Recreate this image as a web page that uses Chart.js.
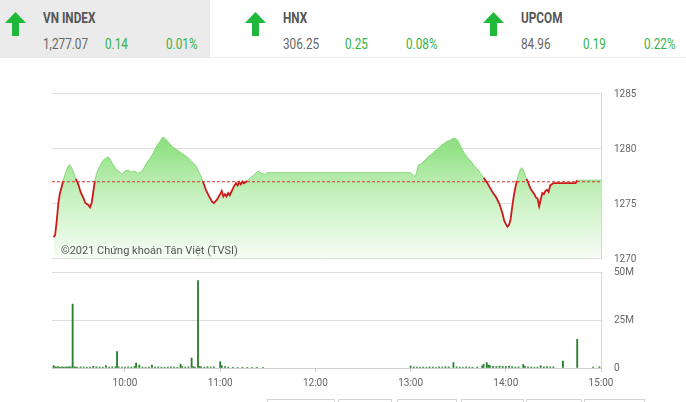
<!DOCTYPE html>
<html>
<head>
<meta charset="utf-8">
<script src="https://cdn.jsdelivr.net/npm/chart.js@4.4.0/dist/chart.umd.min.js"></script>
<style>
  html, body { margin: 0; padding: 0; background: #fff; }
  #wrap { position: relative; width: 686px; height: 402px; overflow: hidden; font-family: "Roboto", sans-serif; }
  #head { position: absolute; left: 0; top: 0; width: 686px; height: 57px; border-bottom: 1px solid #eee; }
  #panel { position: absolute; left: 0; top: 0; width: 210px; height: 58px; background: #ebebeb; }
  .arrow { position: absolute; top: 12px; }
  .txt { position: absolute; white-space: nowrap; font-size: 14px; line-height: 14px; transform: scaleX(0.84); transform-origin: 0 0; }
  .name { font-weight: bold; color: #555; top: 11px; }
  .val { color: #666; top: 37px; }
  .chg { color: #34b247; top: 37px; }
  canvas { position: absolute; left: 0; }
  #copy { position: absolute; left: 61px; top: 244px; font: 11px "Roboto", sans-serif; color: #555; }
  .btn { position: absolute; top: 399px; height: 10px; border: 1px solid #d4d4d4; border-bottom: none; }
</style>
</head>
<body>
<div id="wrap">
  <div id="head"></div>
  <div id="panel"></div>
  <div id="quotes"></div>
  <canvas id="priceChart" width="686" height="210" style="top:60px"></canvas>
  <canvas id="volChart" width="686" height="140" style="top:262px"></canvas>
  <div id="copy">©2021 Chứng khoán Tân Việt (TVSI)</div>
  <div class="btn" style="left:267px;width:66px"></div>
  <div class="btn" style="left:338px;width:52px"></div>
  <div class="btn" style="left:397px;width:58px"></div>
  <div class="btn" style="left:461px;width:61px"></div>
  <div class="btn" style="left:526px;width:54px"></div>
  <div class="btn" style="left:584px;width:59px"></div>
</div>
<script>
// chỉ số đầu trang
const indexNames = ['VN INDEX', 'HNX', 'UPCOM'];
const indexValues = ['1,277.07', '306.25', '84.96'];
const indexChanges = ['0.14', '0.25', '0.19'];
const indexPercents = ['0.01%', '0.08%', '0.22%'];

// VN-Index trong phiên
const REF_PRICE = 1276.93;
const priceTimes = [
  '9:15','9:16','9:17','9:18','9:19','9:20','9:21','9:22','9:23','9:24','9:25','9:26','9:27','9:28','9:29','9:30',
  '9:31','9:32','9:33','9:34','9:35','9:36','9:37','9:38','9:39','9:40','9:41',
  '9:42','9:43','9:44','9:45','9:46','9:47','9:48','9:49','9:50','9:51','9:52','9:53','9:54',
  '9:56','9:58','10:00','10:02','10:04','10:06','10:08','10:10',
  '10:12','10:14','10:16','10:18','10:20','10:22','10:24','10:25',
  '10:27','10:30','10:33','10:36','10:39','10:42','10:45','10:47','10:49',
  '10:51','10:53','10:55','10:56','10:58','11:00','11:01','11:02','11:03','11:04','11:05','11:06',
  '11:07','11:08','11:09','11:10','11:11','11:12','11:13','11:14','11:15','11:17',
  '11:19','11:21','11:23','11:24','11:26','11:28','11:29','11:30',
  '13:00','13:01','13:03','13:04','13:05',
  '13:07','13:09','13:11','13:13','13:15','13:17','13:19','13:21','13:23','13:25','13:27','13:29','13:30',
  '13:32','13:34','13:36','13:38','13:40','13:42','13:44','13:46','13:48',
  '13:50','13:52','13:54','13:56','13:58','13:59','14:00','14:01','14:02','14:03','14:04','14:05','14:06','14:07',
  '14:08','14:09','14:10','14:11','14:12','14:13','14:14',
  '14:15','14:16','14:17','14:18','14:19','14:20','14:21','14:22','14:23','14:24','14:25','14:26','14:27','14:28','14:29','14:30',
  '14:44','14:45','15:00'
];
const priceValues = [
  1271.9,1272.1,1273.4,1275.0,1275.9,1276.4,1277.0,1277.5,1277.9,1278.3,1278.5,1278.3,1278.0,1277.6,1277.2,1276.9,
  1276.5,1276.0,1275.7,1275.4,1275.0,1274.9,1274.8,1274.6,1275.0,1276.0,1277.0,
  1277.6,1278.0,1278.3,1278.6,1278.8,1279.0,1279.0,1279.2,1279.1,1278.9,1278.6,1278.4,1278.1,
  1277.9,1277.6,1277.9,1278.0,1277.8,1277.9,1277.7,1277.8,
  1278.2,1278.7,1279.1,1279.6,1280.2,1280.6,1281.0,1280.9,
  1280.6,1280.1,1279.8,1279.5,1279.2,1278.8,1278.3,1277.7,1277.0,
  1276.2,1275.6,1275.1,1275.0,1275.3,1275.8,1276.1,1275.6,1275.8,1275.6,1275.9,1275.7,
  1276.0,1276.3,1276.6,1276.8,1276.6,1276.9,1276.7,1276.95,1276.8,1277.0,
  1277.3,1277.5,1277.8,1277.9,1277.7,1277.6,1277.7,1277.75,
  1277.75,1277.6,1277.4,1277.9,1278.45,
  1278.6,1278.9,1279.2,1279.4,1279.7,1279.9,1280.2,1280.4,1280.6,1280.7,1280.9,1280.8,1280.6,
  1280.0,1279.5,1279.1,1278.8,1278.4,1278.1,1277.7,1277.3,1276.9,
  1276.4,1275.9,1275.5,1274.9,1274.0,1273.4,1273.1,1272.85,1273.0,1273.5,1274.6,1275.6,1276.4,1277.0,
  1277.6,1278.0,1278.2,1278.0,1277.6,1277.2,1276.9,
  1276.5,1276.2,1276.0,1275.8,1275.5,1275.4,1274.7,1275.3,1275.9,1275.8,1276.1,1276.2,1276.0,1276.6,1276.7,1276.8,
  1276.8,1277.07,1277.07
];

// khối lượng (triệu cp)
const volTimes = [
  '9:15','9:16','9:17','9:18','9:19','9:20','9:21','9:22','9:23','9:24','9:25','9:26','9:27','9:28','9:29','9:30',
  '9:32','9:34','9:36','9:38','9:40','9:42','9:44','9:46','9:48','9:50','9:52','9:54','9:55','9:56','9:58',
  '10:00','10:02','10:04','10:06','10:07','10:09','10:11','10:13','10:15','10:17','10:19','10:21','10:23','10:25',
  '10:27','10:29','10:31','10:33','10:35','10:36','10:38','10:40','10:42','10:43','10:44','10:46','10:47','10:48',
  '10:50','10:52','10:54','10:56','11:00','11:01','11:03','11:05','11:08','11:11','11:14','11:17','11:20','11:23','11:27',
  '13:00','13:02','13:04','13:06','13:08','13:10','13:12','13:14','13:16','13:18','13:20','13:22','13:24','13:27',
  '13:29','13:31','13:33','13:35','13:37','13:39','13:42','13:45','13:46','13:48','13:49','13:50','13:52','13:54',
  '13:56','13:58','14:00','14:02','14:04','14:06','14:08','14:11','14:12','14:14','14:16','14:18','14:20','14:22',
  '14:24','14:26','14:28','14:30','14:36','14:45','14:55','14:59'
];
const volValues = [
  1.2,0.6,0.5,0.7,0.4,0.6,0.5,0.4,0.6,0.5,0.7,0.5,33.3,0.6,0.5,0.4,
  0.6,0.5,0.4,0.5,0.9,0.6,0.5,0.4,1.2,0.5,0.6,0.7,8.5,0.6,0.4,
  0.5,0.6,0.5,0.8,2.6,1.5,0.5,0.4,0.5,1.5,0.5,0.6,0.5,0.4,
  0.5,0.6,0.5,0.4,2.0,0.8,0.5,0.6,5.2,0.7,0.5,45.5,0.8,0.6,
  0.5,0.7,0.5,0.6,3.3,1.2,0.7,0.5,0.4,0.3,0.4,0.3,0.3,0.4,0.3,
  1.0,0.6,0.5,0.4,0.5,0.4,0.6,0.5,0.4,0.6,0.5,0.7,0.6,2.8,
  0.6,0.5,0.4,0.6,0.5,0.4,0.5,1.0,2.0,2.8,1.5,1.2,0.9,0.8,
  1.0,0.9,0.8,1.0,0.7,0.5,0.6,1.8,0.9,0.6,0.5,0.4,0.5,1.2,
  0.6,0.7,0.6,0.6,3.6,15.0,0.5,0.6
];

const hourTicks = ['10:00', '11:00', '12:00', '13:00', '14:00', '15:00'];
const priceTicks = [1270, 1275, 1280, 1285];
const volTicks = [0, 25, 50];

const X_MIN = 554;   // 9:14
const X_MAX = 900;   // 15:00
const GREEN_LINE = '#82d874';
const RED_LINE = '#cc1a1a';
const AXIS_FONT = { family: 'Roboto', size: 10 };

function toMin(s) {
    const [h, m] = s.split(':').map(Number);
    return h * 60 + m;
}

// ===========================
// đầu trang
// ===========================
const arrowSvg = '<svg width="21" height="24" viewBox="0 0 21 24"><path d="M10.5 0 L21 11 L14 11 L14 24 L7 24 L7 11 L0 11 Z" fill="#1fb83a"/></svg>';
const quoteX = [5, 245, 483];
const quotes = document.getElementById('quotes');
indexNames.forEach((name, i) => {
    const x0 = quoteX[i];
    quotes.innerHTML += `
        <div class="arrow" style="left:${x0}px">${arrowSvg}</div>
        <div class="txt name" style="left:${x0 + 38}px">${name}</div>
        <div class="txt val" style="left:${x0 + 38}px">${indexValues[i]}</div>
        <div class="txt chg" style="left:${x0 + 100}px">${indexChanges[i]}</div>
        <div class="txt chg" style="left:${x0 + 161}px">${indexPercents[i]}</div>
    `;
});

// ===========================
// biểu đồ giá
// ===========================
const pricePoints = priceTimes.map((t, i) => ({ x: toMin(t), y: priceValues[i] }));
const isBelow = c => c.p0.parsed.y < REF_PRICE - 0.01 || c.p1.parsed.y < REF_PRICE - 0.01;

function greenFill(context) {
    const { ctx, chartArea } = context.chart;
    if (!chartArea) return 'rgba(150,225,140,0.6)';
    const g = ctx.createLinearGradient(0, chartArea.top, 0, chartArea.bottom);
    g.addColorStop(0, 'rgb(122,214,108)');
    g.addColorStop(0.35, 'rgb(150,226,138)');
    g.addColorStop(0.6, 'rgb(196,240,188)');
    g.addColorStop(1, 'rgb(246,253,245)');
    return g;
}

// vạch tick trong suốt thay cho padding để vùng vẽ không bị thu hẹp
const rightAxis = {
    position: 'right',
    afterFit: s => { s.width = 85; },
    grid: { color: '#dedede', drawTicks: true, tickLength: 13, tickColor: 'rgba(0,0,0,0)' },
    border: { display: true, color: '#d6d6d6' }
};

new Chart(document.getElementById('priceChart'), {
    type: 'line',
    data: {
        datasets: [
            {
                // đường tham chiếu
                data: [{ x: X_MIN, y: REF_PRICE }, { x: X_MAX, y: REF_PRICE }],
                borderColor: '#d0342c',
                borderWidth: 1,
                borderDash: [3, 2],
                pointRadius: 0,
                fill: false
            },
            {
                // đường giá, xanh trên / đỏ dưới tham chiếu
                data: pricePoints,
                borderColor: GREEN_LINE,
                borderWidth: 1,
                pointRadius: 0,
                tension: 0,
                fill: false,
                segment: {
                    borderColor: c => isBelow(c) ? RED_LINE : GREEN_LINE,
                    borderWidth: c => isBelow(c) ? 1.8 : 1
                }
            },
            {
                // vùng tô (tách riêng để không bị vệt giữa các đoạn)
                data: pricePoints,
                borderWidth: 0,
                pointRadius: 0,
                tension: 0,
                fill: 'start',
                backgroundColor: greenFill
            }
        ]
    },
    options: {
        responsive: false,
        animation: false,
        layout: { padding: { left: 52, top: 33, bottom: 12, right: 0 } },
        plugins: { legend: { display: false }, tooltip: { enabled: false } },
        scales: {
            x: { type: 'linear', min: X_MIN, max: X_MAX, display: false },
            y: {
                ...rightAxis,
                min: priceTicks[0],
                max: priceTicks[priceTicks.length - 1],
                afterBuildTicks: s => { s.ticks = priceTicks.map(v => ({ value: v })); },
                ticks: { padding: 0, color: '#666', font: AXIS_FONT, labelOffset: 1, callback: v => String(v) }
            }
        }
    }
});

// ===========================
// biểu đồ khối lượng
// ===========================
const volPoints = volTimes.map((t, i) => ({ x: toMin(t), y: volValues[i] }));

new Chart(document.getElementById('volChart'), {
    type: 'bar',
    data: {
        datasets: [{
            data: volPoints,
            backgroundColor: '#2a8030',
            barThickness: 1.2
        }]
    },
    options: {
        responsive: false,
        animation: false,
        layout: { padding: { left: 52, top: 10, right: 0, bottom: 0 } },
        plugins: { legend: { display: false }, tooltip: { enabled: false } },
        scales: {
            x: {
                type: 'linear',
                offset: false,
                min: X_MIN,
                max: X_MAX,
                afterBuildTicks: s => { s.ticks = hourTicks.map(t => ({ value: toMin(t) })); },
                afterFit: s => { s.height = 34; },
                ticks: {
                    callback: v => hourTicks.find(t => toMin(t) === v) || '',
                    padding: 5,
                    color: '#666',
                    font: AXIS_FONT,
                    maxRotation: 0,
                    autoSkip: false
                },
                grid: { offset: false, drawOnChartArea: false, tickLength: 4, color: '#cfcfcf' },
                border: { display: true, color: '#cfcfcf' }
            },
            y: {
                ...rightAxis,
                min: 0,
                max: 50,
                afterBuildTicks: s => { s.ticks = volTicks.map(v => ({ value: v })); },
                ticks: { callback: v => v === 0 ? '0' : v + 'M', padding: 0, color: '#666', font: AXIS_FONT }
            }
        }
    }
});
</script>
</body>
</html>
